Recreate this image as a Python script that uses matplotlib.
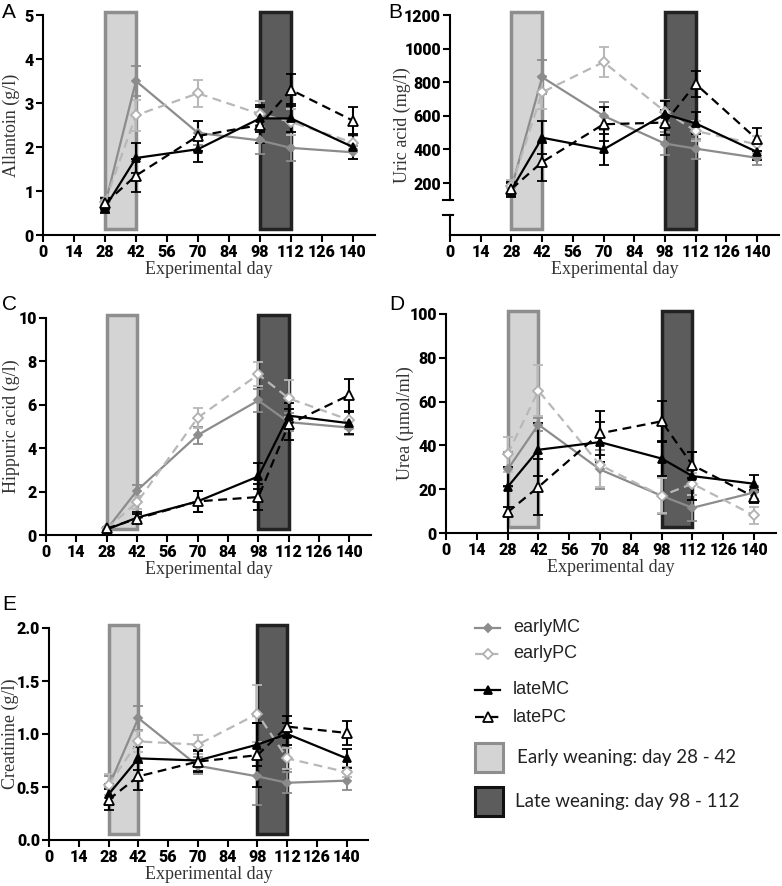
import matplotlib
matplotlib.use("Agg")
import matplotlib.pyplot as plt
import matplotlib.transforms as mtransforms
from matplotlib.patches import Rectangle

##----- donnees -----##
days = [28, 42, 70, 98, 112, 140]
xticks = [0, 14, 28, 42, 56, 70, 84, 98, 112, 126, 140]
groups = ["earlyMC", "earlyPC", "lateMC", "latePC"]
early_weaning = (28, 42)
late_weaning = (98, 112)

allantoin = {"earlyMC": [0.68, 3.5, 2.32, 2.15, 1.98, 1.88],
             "earlyPC": [0.75, 2.72, 3.22, 2.75, 2.57, 2.1],
             "lateMC": [0.62, 1.75, 1.95, 2.65, 2.65, 2.0],
             "latePC": [0.72, 1.35, 2.25, 2.5, 3.3, 2.6]}
allantoin_sem = {"earlyMC": [0.12, 0.35, 0.28, 0.3, 0.3, 0.15],
                 "earlyPC": [0.12, 0.35, 0.3, 0.3, 0.3, 0.15],
                 "lateMC": [0.12, 0.35, 0.28, 0.3, 0.32, 0.28],
                 "latePC": [0.12, 0.38, 0.35, 0.4, 0.37, 0.3]}

uric = {"earlyMC": [170, 830, 600, 435, 405, 350],
        "earlyPC": [180, 740, 920, 625, 510, 430],
        "lateMC": [160, 470, 400, 610, 555, 385],
        "latePC": [165, 325, 550, 560, 790, 460]}
uric_sem = {"earlyMC": [40, 100, 85, 70, 60, 40],
            "earlyPC": [40, 100, 90, 70, 60, 50],
            "lateMC": [40, 100, 90, 80, 65, 50],
            "latePC": [40, 115, 100, 75, 75, 70]}

hippuric = {"earlyMC": [0.25, 2.05, 4.6, 6.2, 5.2, 4.95],
            "earlyPC": [0.3, 1.5, 5.4, 7.4, 6.3, 5.3],
            "lateMC": [0.25, 0.8, 1.55, 2.7, 5.5, 5.15],
            "latePC": [0.3, 0.75, 1.55, 1.75, 5.1, 6.45]}
hippuric_sem = {"earlyMC": [0.05, 0.25, 0.4, 0.55, 0.4, 0.35],
                "earlyPC": [0.05, 0.3, 0.45, 0.55, 0.85, 0.4],
                "lateMC": [0.05, 0.25, 0.5, 0.6, 0.6, 0.5],
                "latePC": [0.05, 0.2, 0.5, 0.6, 0.7, 0.75]}

urea = {"earlyMC": [29, 49.5, 29, 17, 11.5, 18.5],
        "earlyPC": [36, 65, 31, 17, 22.5, 8],
        "lateMC": [21, 38, 41.5, 34, 26, 22.5],
        "latePC": [9.5, 21, 45.5, 51, 31, 16.5]}
urea_sem = {"earlyMC": [8, 3, 9, 8.5, 6, 3],
            "earlyPC": [8, 11.5, 10, 8, 5, 4],
            "lateMC": [9, 12, 9, 8, 11, 4],
            "latePC": [12, 13, 10, 9.5, 6, 3]}

creatinine = {"earlyMC": [0.5, 1.15, 0.7, 0.6, 0.54, 0.56],
              "earlyPC": [0.52, 0.93, 0.9, 1.19, 0.77, 0.64],
              "lateMC": [0.43, 0.77, 0.75, 0.9, 1.0, 0.77],
              "latePC": [0.38, 0.6, 0.74, 0.8, 1.07, 1.01]}
creatinine_sem = {"earlyMC": [0.1, 0.11, 0.08, 0.27, 0.1, 0.09],
                  "earlyPC": [0.1, 0.1, 0.09, 0.27, 0.1, 0.05],
                  "lateMC": [0.1, 0.11, 0.1, 0.2, 0.1, 0.09],
                  "latePC": [0.1, 0.13, 0.1, 0.3, 0.1, 0.11]}

##----- styles -----##
styles = {
    "earlyMC": dict(color="#8c8c8c", ls="-", marker="D", ms=4, mfc="#8c8c8c", mec="#8c8c8c"),
    "earlyPC": dict(color="#b8b8b8", ls=(0, (4, 2.5)), marker="D", ms=5.5, mfc="white", mec="#b0b0b0"),
    "lateMC": dict(color="black", ls="-", marker="^", ms=6, mfc="black", mec="black"),
    "latePC": dict(color="black", ls=(0, (4, 2.5)), marker="^", ms=7, mfc="white", mec="black"),
}
W, H = 782, 886
serif = "Liberation Serif"
sans = "Liberation Sans"
tickfont = "Roboto"

fig = plt.figure(figsize=(W / 100, H / 100), dpi=100)


def add_ax(left, right, top, bottom):
    return fig.add_axes([left / W, 1 - bottom / H, (right - left) / W, (bottom - top) / H])


def draw_panel(ax, data, sem, ylabel, ylim, yticks, ylabels, label_x, broken=False):
    ax.set_xlim(0, 150)
    ax.set_ylim(*ylim)
    trans = mtransforms.blended_transform_factory(ax.transData, ax.transAxes)
    ax.add_patch(Rectangle((early_weaning[0], 0.028), early_weaning[1] - early_weaning[0], 0.984,
                           transform=trans, clip_on=False, fc="#d4d4d4", ec="#8e8e8e", lw=2.5, zorder=1))
    ax.add_patch(Rectangle((late_weaning[0], 0.028), late_weaning[1] - late_weaning[0], 0.984,
                           transform=trans, clip_on=False, fc="#5c5c5c", ec="#222222", lw=2.5, zorder=1))
    for g in groups:
        st = styles[g]
        ax.errorbar(days, data[g], yerr=sem[g], color=st["color"], ls=st["ls"], lw=1.6,
                    marker=st["marker"], ms=st["ms"], mfc=st["mfc"], mec=st["mec"], mew=1.3,
                    ecolor=st["color"], elinewidth=1.5, capsize=3.5, capthick=1.5, zorder=3)
    for s in ["top", "right"]:
        ax.spines[s].set_visible(False)
    for s in ["left", "bottom"]:
        ax.spines[s].set_linewidth(1.5)
    ax.set_xticks(xticks, [str(v) for v in xticks], fontweight="black", family=tickfont, fontsize=11.5)
    ax.set_yticks(yticks, ylabels, fontweight="black", family=tickfont, fontsize=11.5)
    ax.tick_params(direction="out", length=5, width=1.5, pad=1.5)
    ax.set_xlabel("Experimental day", family=serif, fontsize=13, color="#333333", labelpad=1)
    ax.set_ylabel(ylabel, family=serif, fontsize=13, color="#333333")
    pos = ax.get_position()
    ax.yaxis.set_label_coords((label_x / W - pos.x0) / pos.width, 0.5)
    if broken:
        # axe y coupe
        ax.spines["left"].set_visible(False)
        ty = mtransforms.blended_transform_factory(ax.transAxes, ax.transData)
        ax.plot([0, 0], [100, ylim[1]], transform=ty, color="black", lw=1.5, clip_on=False)
        ax.plot([0, 0], [ylim[0], 12], transform=ty, color="black", lw=1.5, clip_on=False)
        ax.plot([-0.02, 0.01], [100, 100], transform=ty, color="black", lw=1.5, clip_on=False)
        ax.plot([-0.02, 0.01], [12, 12], transform=ty, color="black", lw=1.5, clip_on=False)


axA = add_ax(43, 375, 15, 235)
draw_panel(axA, allantoin, allantoin_sem, "Allantoin (g/l)", (0, 5),
           [0, 1, 2, 3, 4, 5], ["0", "1", "2", "3", "4", "5"], 20)
axB = add_ax(450, 779, 15, 235)
draw_panel(axB, uric, uric_sem, "Uric acid (mg/l)", (-109, 1200),
           [200, 400, 600, 800, 1000, 1200], ["200", "400", "600", "800", "1000", "1200"], 411, broken=True)
axC = add_ax(46, 371, 318, 535)
draw_panel(axC, hippuric, hippuric_sem, "Hippuric acid (g/l)", (0, 10),
           [0, 2, 4, 6, 8, 10], ["0", "2", "4", "6", "8", "10"], 20)
axD = add_ax(446, 776, 314, 533)
draw_panel(axD, urea, urea_sem, "Urea (\u00b5mol/ml)", (0, 100),
           [0, 20, 40, 60, 80, 100], ["0", "20", "40", "60", "80", "100"], 414)
axE = add_ax(49, 368, 628, 840)
draw_panel(axE, creatinine, creatinine_sem, "Creatinine (g/l)", (0, 2.0),
           [0.0, 0.5, 1.0, 1.5, 2.0], ["0.0", "0.5", "1.0", "1.5", "2.0"], 19)

for letter, x, y in [("A", 2, 12), ("B", 388, 12), ("C", 2, 305), ("D", 389, 305), ("E", 2, 605)]:
    fig.text(x / W, 1 - y / H, letter, family=sans, fontsize=15, va="center", ha="left")

##----- legende -----##
lax = fig.add_axes([0, 0, 1, 1], zorder=-1)
lax.set_xlim(0, W)
lax.set_ylim(H, 0)
lax.axis("off")
for g, y in zip(groups, [628, 654, 690, 717]):
    st = styles[g]
    lax.plot([475, 487.5, 500], [y, y, y], color=st["color"], ls=st["ls"], lw=1.6,
             marker=st["marker"], ms=st["ms"], mfc=st["mfc"], mec=st["mec"], mew=1.3, markevery=[1])
    lax.text(513, y, g, family=sans, fontsize=13, va="center", color="#222222")
lax.add_patch(Rectangle((475, 743), 28, 29, fc="#d4d4d4", ec="#8e8e8e", lw=2.2))
lax.add_patch(Rectangle((475, 787), 28, 29, fc="#5c5c5c", ec="#111111", lw=2.2))
lax.text(517, 757, "Early weaning: day 28 - 42", family="Lato", fontsize=13.5, va="center", color="#222222")
lax.text(515, 801, "Late weaning: day 98 - 112", family="Lato", fontsize=13.5, va="center", color="#222222")

fig.savefig("out.png", dpi=100)
